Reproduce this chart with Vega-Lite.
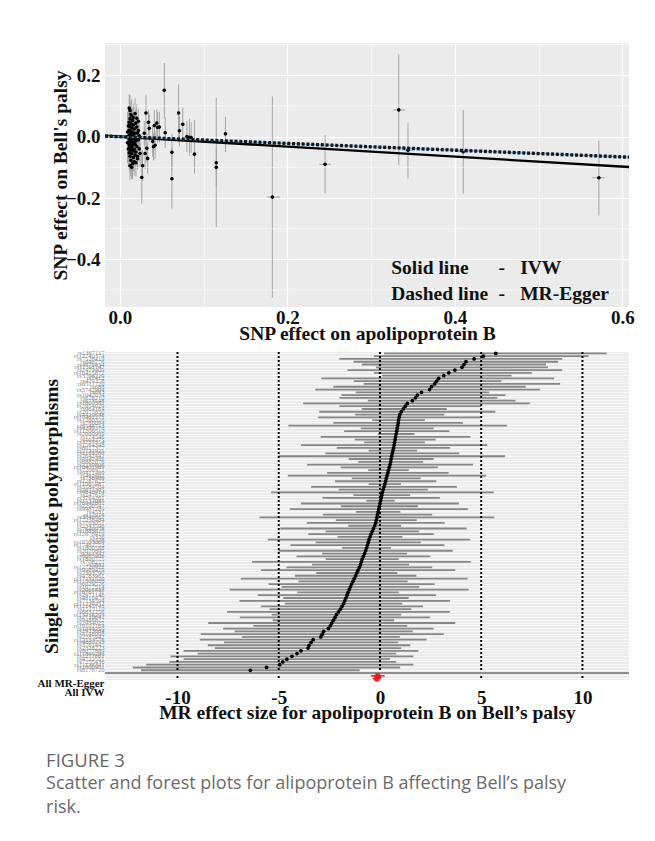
{
  "$schema": "https://vega.github.io/schema/vega-lite/v6.json",
  "padding": {"left": 37, "top": 43, "right": 26, "bottom": 0},
  "background": "white",
  "spacing": 6,
  "config": {
    "view": {"stroke": null},
    "axis": {
      "labelFont": "Liberation Serif", "labelFontWeight": "bold", "labelFontSize": 19, "labelColor": "#111111",
      "titleFont": "Liberation Serif", "titleFontWeight": "bold", "titleFontSize": 19.5, "titleColor": "#111111",
      "domain": false, "ticks": false
    }
  },
  "title": {
    "text": "FIGURE 3",
    "subtitle": ["Scatter and forest plots for alipoprotein B affecting Bell’s palsy", "risk."],
    "orient": "bottom", "anchor": "start", "offset": 30, "dx": 9,
    "font": "Open Sans", "fontSize": 18.5, "fontWeight": "normal", "color": "#666666",
    "subtitleFont": "Open Sans", "subtitleFontSize": 18, "subtitleColor": "#6b6b6b",
    "subtitlePadding": 5, "subtitleLineHeight": 24
  },
  "datasets": {
    "ygrid": [{"g": -0.5}, {"g": -0.3}, {"g": -0.1}, {"g": 0.1}, {"g": 0.3}],
    "pts": [
      {"bx": 0.011, "by": 0.093, "lo": 0.048, "hi": 0.138},
      {"bx": 0.012, "by": 0.085, "lo": 0.035, "hi": 0.135},
      {"bx": 0.013, "by": 0.072, "lo": 0.032, "hi": 0.112},
      {"bx": 0.014, "by": 0.066, "lo": 0.011, "hi": 0.121},
      {"bx": 0.012, "by": 0.058, "lo": 0.013, "hi": 0.103},
      {"bx": 0.015, "by": 0.052, "lo": 0.012, "hi": 0.092},
      {"bx": 0.011, "by": 0.047, "lo": -0.003, "hi": 0.097},
      {"bx": 0.013, "by": 0.041, "lo": -0.004, "hi": 0.086},
      {"bx": 0.016, "by": 0.038, "lo": 0.003, "hi": 0.073},
      {"bx": 0.012, "by": 0.033, "lo": -0.017, "hi": 0.083},
      {"bx": 0.014, "by": 0.029, "lo": -0.011, "hi": 0.069},
      {"bx": 0.017, "by": 0.025, "lo": -0.020, "hi": 0.070},
      {"bx": 0.011, "by": 0.021, "lo": -0.034, "hi": 0.076},
      {"bx": 0.013, "by": 0.018, "lo": -0.022, "hi": 0.058},
      {"bx": 0.015, "by": 0.014, "lo": -0.036, "hi": 0.064},
      {"bx": 0.018, "by": 0.011, "lo": -0.024, "hi": 0.046},
      {"bx": 0.012, "by": 0.008, "lo": -0.037, "hi": 0.053},
      {"bx": 0.014, "by": 0.005, "lo": -0.035, "hi": 0.045},
      {"bx": 0.016, "by": 0.003, "lo": -0.047, "hi": 0.053},
      {"bx": 0.010, "by": 0.001, "lo": -0.054, "hi": 0.056},
      {"bx": 0.013, "by": -0.002, "lo": -0.047, "hi": 0.043},
      {"bx": 0.015, "by": -0.004, "lo": -0.044, "hi": 0.036},
      {"bx": 0.017, "by": -0.007, "lo": -0.057, "hi": 0.043},
      {"bx": 0.011, "by": -0.009, "lo": -0.054, "hi": 0.036},
      {"bx": 0.014, "by": -0.012, "lo": -0.052, "hi": 0.028},
      {"bx": 0.019, "by": -0.014, "lo": -0.049, "hi": 0.021},
      {"bx": 0.012, "by": -0.017, "lo": -0.067, "hi": 0.033},
      {"bx": 0.016, "by": -0.019, "lo": -0.064, "hi": 0.026},
      {"bx": 0.013, "by": -0.022, "lo": -0.077, "hi": 0.033},
      {"bx": 0.018, "by": -0.025, "lo": -0.065, "hi": 0.015},
      {"bx": 0.011, "by": -0.027, "lo": -0.077, "hi": 0.023},
      {"bx": 0.015, "by": -0.030, "lo": -0.075, "hi": 0.015},
      {"bx": 0.020, "by": -0.032, "lo": -0.067, "hi": 0.003},
      {"bx": 0.012, "by": -0.035, "lo": -0.085, "hi": 0.015},
      {"bx": 0.014, "by": -0.038, "lo": -0.083, "hi": 0.007},
      {"bx": 0.017, "by": -0.041, "lo": -0.081, "hi": -0.001},
      {"bx": 0.013, "by": -0.044, "lo": -0.094, "hi": 0.006},
      {"bx": 0.016, "by": -0.047, "lo": -0.092, "hi": -0.002},
      {"bx": 0.019, "by": -0.050, "lo": -0.090, "hi": -0.010},
      {"bx": 0.011, "by": -0.053, "lo": -0.108, "hi": 0.002},
      {"bx": 0.014, "by": -0.056, "lo": -0.101, "hi": -0.011},
      {"bx": 0.018, "by": -0.060, "lo": -0.100, "hi": -0.020},
      {"bx": 0.012, "by": -0.064, "lo": -0.114, "hi": -0.014},
      {"bx": 0.016, "by": -0.068, "lo": -0.113, "hi": -0.023},
      {"bx": 0.021, "by": -0.072, "lo": -0.107, "hi": -0.037},
      {"bx": 0.013, "by": -0.077, "lo": -0.127, "hi": -0.027},
      {"bx": 0.017, "by": -0.082, "lo": -0.127, "hi": -0.037},
      {"bx": 0.015, "by": -0.088, "lo": -0.138, "hi": -0.038},
      {"bx": 0.012, "by": -0.095, "lo": -0.140, "hi": -0.050},
      {"bx": 0.014, "by": -0.100, "lo": -0.140, "hi": -0.060},
      {"bx": 0.019, "by": 0.044, "lo": 0.004, "hi": 0.084},
      {"bx": 0.020, "by": 0.031, "lo": -0.004, "hi": 0.066},
      {"bx": 0.021, "by": 0.012, "lo": -0.028, "hi": 0.052},
      {"bx": 0.022, "by": -0.010, "lo": -0.045, "hi": 0.025},
      {"bx": 0.023, "by": -0.040, "lo": -0.080, "hi": 0.000},
      {"bx": 0.020, "by": 0.060, "lo": 0.015, "hi": 0.105},
      {"bx": 0.018, "by": 0.075, "lo": 0.025, "hi": 0.125},
      {"bx": 0.022, "by": 0.020, "lo": -0.020, "hi": 0.060},
      {"bx": 0.024, "by": -0.055, "lo": -0.100, "hi": -0.010},
      {"bx": 0.021, "by": -0.065, "lo": -0.105, "hi": -0.025},
      {"bx": 0.010, "by": 0.035, "lo": -0.025, "hi": 0.095},
      {"bx": 0.010, "by": -0.040, "lo": -0.100, "hi": 0.020},
      {"bx": 0.009, "by": -0.020, "lo": -0.085, "hi": 0.045},
      {"bx": 0.009, "by": 0.015, "lo": -0.050, "hi": 0.080},
      {"bx": 0.019, "by": -0.085, "lo": -0.130, "hi": -0.040},
      {"bx": 0.016, "by": 0.062, "lo": 0.017, "hi": 0.107},
      {"bx": 0.022, "by": 0.050, "lo": 0.010, "hi": 0.090},
      {"bx": 0.023, "by": 0.003, "lo": -0.037, "hi": 0.043},
      {"bx": 0.026, "by": -0.133, "lo": -0.220, "hi": -0.046},
      {"bx": 0.027, "by": -0.095, "lo": -0.145, "hi": -0.045},
      {"bx": 0.029, "by": 0.011, "lo": -0.029, "hi": 0.051},
      {"bx": 0.031, "by": 0.077, "lo": 0.005, "hi": 0.137},
      {"bx": 0.030, "by": -0.055, "lo": -0.105, "hi": -0.005},
      {"bx": 0.032, "by": -0.038, "lo": -0.083, "hi": 0.007},
      {"bx": 0.033, "by": -0.071, "lo": -0.121, "hi": -0.021},
      {"bx": 0.034, "by": 0.047, "lo": 0.007, "hi": 0.087},
      {"bx": 0.035, "by": 0.027, "lo": -0.018, "hi": 0.072},
      {"bx": 0.039, "by": -0.016, "lo": -0.066, "hi": 0.034},
      {"bx": 0.040, "by": -0.033, "lo": -0.078, "hi": 0.012},
      {"bx": 0.041, "by": 0.036, "lo": -0.014, "hi": 0.086},
      {"bx": 0.044, "by": 0.044, "lo": -0.001, "hi": 0.089},
      {"bx": 0.045, "by": 0.030, "lo": -0.020, "hi": 0.080},
      {"bx": 0.042, "by": -0.028, "lo": -0.073, "hi": 0.017},
      {"bx": 0.047, "by": 0.031, "lo": -0.019, "hi": 0.081},
      {"bx": 0.053, "by": 0.151, "lo": 0.060, "hi": 0.240},
      {"bx": 0.054, "by": 0.013, "lo": -0.037, "hi": 0.063},
      {"bx": 0.062, "by": -0.051, "lo": -0.111, "hi": 0.009},
      {"bx": 0.062, "by": -0.137, "lo": -0.235, "hi": -0.038},
      {"bx": 0.070, "by": 0.077, "lo": -0.016, "hi": 0.170},
      {"bx": 0.071, "by": 0.019, "lo": -0.031, "hi": 0.069},
      {"bx": 0.075, "by": 0.040, "lo": -0.015, "hi": 0.095},
      {"bx": 0.080, "by": 0.000, "lo": -0.050, "hi": 0.050},
      {"bx": 0.083, "by": -0.002, "lo": -0.062, "hi": 0.058},
      {"bx": 0.085, "by": -0.003, "lo": -0.053, "hi": 0.047},
      {"bx": 0.089, "by": -0.057, "lo": -0.120, "hi": 0.055},
      {"bx": 0.115, "by": -0.085, "lo": -0.295, "hi": 0.126},
      {"bx": 0.115, "by": -0.100, "lo": -0.160, "hi": -0.040},
      {"bx": 0.126, "by": 0.009, "lo": -0.050, "hi": 0.065},
      {"bx": 0.182, "by": -0.197, "lo": -0.525, "hi": 0.131, "hx0": 0.176, "hx1": 0.191},
      {"bx": 0.245, "by": -0.090, "lo": -0.186, "hi": 0.005, "hx0": 0.238, "hx1": 0.252},
      {"bx": 0.333, "by": 0.087, "lo": -0.093, "hi": 0.268, "hx0": 0.326, "hx1": 0.341},
      {"bx": 0.344, "by": -0.044, "lo": -0.137, "hi": 0.044, "hx0": 0.339, "hx1": 0.350},
      {"bx": 0.410, "by": -0.049, "lo": -0.186, "hi": 0.087, "hx0": 0.404, "hx1": 0.416},
      {"bx": 0.572, "by": -0.134, "lo": -0.257, "hi": -0.014, "hx0": 0.564, "hx1": 0.579}
    ],
    "lines": [
      {"m": "IVW", "x": -0.0179, "y": 0.0029},
      {"m": "IVW", "x": 0.608, "y": -0.099},
      {"m": "Egger", "x": -0.0179, "y": 0.0018},
      {"m": "Egger", "x": 0.608, "y": -0.067}
    ],
    "vlines": [{"v": -10}, {"v": -5}, {"v": 0}, {"v": 5}, {"v": 10}],
    "forest": [
      {"snp": "rs1367117", "est": 5.72, "lo": 0.2, "hi": 11.2},
      {"snp": "rs12740374", "est": 5.10, "lo": -0.3, "hi": 10.3},
      {"snp": "rs7528419", "est": 4.65, "lo": -2.0, "hi": 9.0},
      {"snp": "rs646776", "est": 4.25, "lo": -1.3, "hi": 8.8},
      {"snp": "rs4970834", "est": 4.15, "lo": -0.9, "hi": 8.2},
      {"snp": "rs11591147", "est": 4.05, "lo": -0.2, "hi": 8.3},
      {"snp": "rs2479409", "est": 3.70, "lo": -1.6, "hi": 9.0},
      {"snp": "rs10455872", "est": 3.40, "lo": -0.3, "hi": 7.5},
      {"snp": "rs3798220", "est": 3.15, "lo": 0.1, "hi": 6.5},
      {"snp": "rs7412", "est": 2.90, "lo": -2.9, "hi": 8.6},
      {"snp": "rs429358", "est": 2.80, "lo": -1.3, "hi": 6.0},
      {"snp": "rs6511720", "est": 2.70, "lo": -0.8, "hi": 8.9},
      {"snp": "rs688", "est": 2.55, "lo": -2.3, "hi": 7.2},
      {"snp": "rs5742904", "est": 2.45, "lo": -3.2, "hi": 7.9},
      {"snp": "rs693", "est": 2.05, "lo": -1.2, "hi": 5.4},
      {"snp": "rs1042034", "est": 1.85, "lo": -1.9, "hi": 6.2},
      {"snp": "rs676210", "est": 1.75, "lo": -2.0, "hi": 5.8},
      {"snp": "rs673548", "est": 1.60, "lo": -0.6, "hi": 6.7},
      {"snp": "rs1800562", "est": 1.35, "lo": -3.8, "hi": 7.4},
      {"snp": "rs2954029", "est": 1.25, "lo": -2.0, "hi": 5.0},
      {"snp": "rs964184", "est": 1.15, "lo": -0.9, "hi": 3.3},
      {"snp": "rs2075650", "est": 1.05, "lo": -3.0, "hi": 5.7},
      {"snp": "rs4420638", "est": 0.98, "lo": -1.22, "hi": 3.18},
      {"snp": "rs10402271", "est": 0.95, "lo": -3.05, "hi": 4.95},
      {"snp": "rs1260326", "est": 0.92, "lo": -0.38, "hi": 2.22},
      {"snp": "rs780094", "est": 0.90, "lo": -2.30, "hi": 4.10},
      {"snp": "rs6544713", "est": 0.88, "lo": -4.52, "hi": 6.28},
      {"snp": "rs4299376", "est": 0.85, "lo": -0.95, "hi": 2.65},
      {"snp": "rs11206510", "est": 0.83, "lo": -1.77, "hi": 3.43},
      {"snp": "rs2000999", "est": 0.80, "lo": -0.10, "hi": 1.70},
      {"snp": "rs174546", "est": 0.77, "lo": -2.93, "hi": 4.47},
      {"snp": "rs102275", "est": 0.75, "lo": -1.25, "hi": 2.75},
      {"snp": "rs3757354", "est": 0.72, "lo": -0.78, "hi": 2.22},
      {"snp": "rs1564348", "est": 0.70, "lo": -3.90, "hi": 5.30},
      {"snp": "rs8017377", "est": 0.67, "lo": -2.13, "hi": 3.47},
      {"snp": "rs2131925", "est": 0.64, "lo": -0.56, "hi": 1.84},
      {"snp": "rs1169288", "est": 0.61, "lo": -2.69, "hi": 3.91},
      {"snp": "rs2642442", "est": 0.58, "lo": -5.02, "hi": 6.18},
      {"snp": "rs4942486", "est": 0.55, "lo": -1.55, "hi": 2.65},
      {"snp": "rs6882076", "est": 0.53, "lo": -1.07, "hi": 2.13},
      {"snp": "rs2230806", "est": 0.50, "lo": -3.60, "hi": 4.60},
      {"snp": "rs10401969", "est": 0.46, "lo": -1.94, "hi": 2.86},
      {"snp": "rs7206971", "est": 0.42, "lo": -0.58, "hi": 1.42},
      {"snp": "rs9411489", "est": 0.39, "lo": -2.61, "hi": 3.39},
      {"snp": "rs492602", "est": 0.35, "lo": -4.55, "hi": 5.25},
      {"snp": "rs738409", "est": 0.31, "lo": -1.39, "hi": 2.01},
      {"snp": "rs2287623", "est": 0.28, "lo": -2.22, "hi": 2.78},
      {"snp": "rs11065987", "est": 0.24, "lo": -0.56, "hi": 1.04},
      {"snp": "rs3184504", "est": 0.20, "lo": -3.40, "hi": 3.80},
      {"snp": "rs2071305", "est": 0.16, "lo": -2.04, "hi": 2.36},
      {"snp": "rs4846914", "est": 0.12, "lo": -5.38, "hi": 5.62},
      {"snp": "rs247616", "est": 0.09, "lo": -1.31, "hi": 1.49},
      {"snp": "rs3764261", "est": 0.06, "lo": -2.84, "hi": 2.96},
      {"snp": "rs1532085", "est": 0.03, "lo": -0.67, "hi": 0.73},
      {"snp": "rs16942887", "est": 0.00, "lo": -3.90, "hi": 3.90},
      {"snp": "rs2290547", "est": -0.03, "lo": -1.93, "hi": 1.87},
      {"snp": "rs9987289", "est": -0.06, "lo": -4.46, "hi": 4.34},
      {"snp": "rs4531", "est": -0.09, "lo": -1.19, "hi": 1.01},
      {"snp": "rs12916", "est": -0.12, "lo": -2.82, "hi": 2.58},
      {"snp": "rs3846662", "est": -0.15, "lo": -5.95, "hi": 5.65},
      {"snp": "rs17238484", "est": -0.18, "lo": -2.18, "hi": 1.82},
      {"snp": "rs7703051", "est": -0.21, "lo": -3.61, "hi": 3.19},
      {"snp": "rs2343596", "est": -0.26, "lo": -1.56, "hi": 1.04},
      {"snp": "rs7640978", "est": -0.32, "lo": -4.92, "hi": 4.28},
      {"snp": "rs1883025", "est": -0.38, "lo": -2.68, "hi": 1.92},
      {"snp": "rs12678919", "est": -0.44, "lo": -3.54, "hi": 2.66},
      {"snp": "rs326", "est": -0.49, "lo": -2.09, "hi": 1.11},
      {"snp": "rs328", "est": -0.54, "lo": -5.54, "hi": 4.46},
      {"snp": "rs10503669", "est": -0.58, "lo": -3.18, "hi": 2.02},
      {"snp": "rs17482753", "est": -0.62, "lo": -4.42, "hi": 3.18},
      {"snp": "rs1800588", "est": -0.66, "lo": -1.86, "hi": 0.54},
      {"snp": "rs2070895", "est": -0.71, "lo": -5.01, "hi": 3.59},
      {"snp": "rs261342", "est": -0.76, "lo": -2.86, "hi": 1.34},
      {"snp": "rs6065906", "est": -0.82, "lo": -4.12, "hi": 2.48},
      {"snp": "rs1800775", "est": -0.88, "lo": -2.68, "hi": 0.92},
      {"snp": "rs708272", "est": -0.92, "lo": -6.32, "hi": 4.48},
      {"snp": "rs5882", "est": -0.96, "lo": -3.36, "hi": 1.44},
      {"snp": "rs12720922", "est": -1.02, "lo": -4.62, "hi": 2.58},
      {"snp": "rs9989419", "est": -1.08, "lo": -5.88, "hi": 3.72},
      {"snp": "rs2303790", "est": -1.14, "lo": -3.14, "hi": 0.86},
      {"snp": "rs4783961", "est": -1.20, "lo": -4.20, "hi": 1.80},
      {"snp": "rs17231520", "est": -1.27, "lo": -6.87, "hi": 4.33},
      {"snp": "rs11508026", "est": -1.33, "lo": -4.03, "hi": 1.37},
      {"snp": "rs6029526", "est": -1.40, "lo": -5.50, "hi": 2.70},
      {"snp": "rs1077514", "est": -1.46, "lo": -4.86, "hi": 1.94},
      {"snp": "rs2068888", "est": -1.52, "lo": -7.42, "hi": 4.38},
      {"snp": "rs10761731", "est": -1.58, "lo": -4.08, "hi": 0.92},
      {"snp": "rs2972146", "est": -1.63, "lo": -6.03, "hi": 2.77},
      {"snp": "rs4810479", "est": -1.68, "lo": -4.78, "hi": 1.42},
      {"snp": "rs7134594", "est": -1.74, "lo": -6.94, "hi": 3.46},
      {"snp": "rs11229252", "est": -1.80, "lo": -4.70, "hi": 1.10},
      {"snp": "rs12145743", "est": -1.87, "lo": -5.87, "hi": 2.13},
      {"snp": "rs1515110", "est": -1.95, "lo": -5.45, "hi": 1.55},
      {"snp": "rs6831256", "est": -2.05, "lo": -7.55, "hi": 3.45},
      {"snp": "rs13238203", "est": -2.15, "lo": -5.35, "hi": 1.05},
      {"snp": "rs2710642", "est": -2.22, "lo": -6.92, "hi": 2.48},
      {"snp": "rs9488822", "est": -2.30, "lo": -5.30, "hi": 0.70},
      {"snp": "rs2954022", "est": -2.38, "lo": -8.48, "hi": 3.72},
      {"snp": "rs10102164", "est": -2.45, "lo": -6.25, "hi": 1.35},
      {"snp": "rs1044250", "est": -2.55, "lo": -7.75, "hi": 2.65},
      {"snp": "rs2923084", "est": -2.78, "lo": -7.18, "hi": 1.62},
      {"snp": "rs4148008", "est": -2.85, "lo": -8.85, "hi": 3.15},
      {"snp": "rs2285942", "est": -2.92, "lo": -6.82, "hi": 0.98},
      {"snp": "rs12133576", "est": -3.30, "lo": -8.90, "hi": 2.30},
      {"snp": "rs4660293", "est": -3.40, "lo": -7.70, "hi": 0.90},
      {"snp": "rs3761445", "est": -3.50, "lo": -8.50, "hi": 1.50},
      {"snp": "rs2328223", "est": -3.55, "lo": -8.15, "hi": 1.05},
      {"snp": "rs8077889", "est": -3.90, "lo": -9.70, "hi": 1.90},
      {"snp": "rs11869286", "est": -4.10, "lo": -9.00, "hi": 0.80},
      {"snp": "rs2277862", "est": -4.35, "lo": -10.35, "hi": 1.65},
      {"snp": "rs4722551", "est": -4.60, "lo": -9.70, "hi": 0.50},
      {"snp": "rs7255436", "est": -4.80, "lo": -10.40, "hi": 0.80},
      {"snp": "rs11136341", "est": -4.95, "lo": -11.55, "hi": 1.65},
      {"snp": "rs1800961", "est": -5.60, "lo": -12.20, "hi": 1.00},
      {"snp": "rs8176720", "est": -6.40, "lo": -11.80, "hi": -1.00},
      {"snp": "sep"},
      {"snp": "All MR-Egger", "est": -0.11, "lo": -0.45, "hi": 0.23, "all": true},
      {"snp": "All IVW", "est": -0.16, "lo": -0.36, "hi": 0.04, "all": true}
    ]
  },
  "vconcat": [
    {
      "width": 524,
      "height": 264,
      "view": {"fill": "#ebebeb", "stroke": null},
      "resolve": {"scale": {"x": "independent", "y": "independent"}, "axis": {"x": "independent", "y": "independent"}},
      "layer": [
        {
          "layer": [
            {
              "data": {"name": "pts"},
              "mark": {"type": "rule", "color": "#9c9c9c", "strokeWidth": 0.9},
              "encoding": {
                "x": {
                  "field": "bx", "type": "quantitative",
                  "scale": {"domain": [-0.0179, 0.608], "nice": false, "zero": false},
                  "title": "SNP effect on apolipoprotein B",
                  "axis": {
                    "values": [0, 0.1, 0.2, 0.3, 0.4, 0.5, 0.6],
                    "labelExpr": "round(datum.value*10) % 2 == 0 ? format(datum.value, '.1f') : ''",
                    "labelOverlap": false,
                    "grid": true, "gridColor": "white",
                    "gridWidth": {"condition": {"test": "round(datum.value*10) % 2 != 0", "value": 0.6}, "value": 1.2},
                    "labelPadding": 1, "titlePadding": -3
                  }
                },
                "y": {
                  "field": "lo", "type": "quantitative",
                  "scale": {"domain": [-0.555, 0.305], "nice": false, "zero": false},
                  "title": "SNP effect on Bell's palsy",
                  "axis": {
                    "values": [-0.4, -0.2, 0, 0.2],
                    "format": ".1f",
                    "labelOverlap": false,
                    "grid": true, "gridColor": "white", "gridWidth": 1.2,
                    "labelPadding": 5, "titlePadding": -5
                  }
                },
                "y2": {"field": "hi"}
              }
            },
            {
              "data": {"name": "ygrid"},
              "mark": {"type": "rule", "color": "white", "strokeWidth": 0.6},
              "encoding": {
                "y": {"field": "g", "type": "quantitative"}
              }
            },
            {
              "data": {"name": "pts"},
              "transform": [{"filter": "isValid(datum.hx0)"}],
              "mark": {"type": "rule", "color": "#9c9c9c", "strokeWidth": 0.9},
              "encoding": {
                "x": {"field": "hx0", "type": "quantitative"},
                "x2": {"field": "hx1"},
                "y": {"field": "by", "type": "quantitative"}
              }
            },
            {
              "data": {"name": "pts"},
              "mark": {"type": "circle", "color": "black", "size": 13, "opacity": 1},
              "encoding": {
                "x": {"field": "bx", "type": "quantitative"},
                "y": {"field": "by", "type": "quantitative"}
              }
            },
            {
              "data": {"name": "lines"},
              "transform": [{"filter": "datum.m == 'IVW'"}],
              "mark": {"type": "line", "color": "black", "strokeWidth": 2.3},
              "encoding": {
                "x": {"field": "x", "type": "quantitative"},
                "y": {"field": "y", "type": "quantitative"}
              }
            },
            {
              "data": {"name": "lines"},
              "transform": [{"filter": "datum.m == 'Egger'"}],
              "mark": {"type": "line", "color": "#6fb3d8", "strokeWidth": 1.2},
              "encoding": {
                "x": {"field": "x", "type": "quantitative"},
                "y": {"field": "y", "type": "quantitative"}
              }
            },
            {
              "data": {"name": "lines"},
              "transform": [{"filter": "datum.m == 'Egger'"}],
              "mark": {"type": "line", "color": "#111a24", "strokeWidth": 3.4, "strokeDash": [3, 1.8]},
              "encoding": {
                "x": {"field": "x", "type": "quantitative"},
                "y": {"field": "y", "type": "quantitative"}
              }
            }
          ]
        },
        {
          "data": {"values": [{}]},
          "encoding": {
            "x": {"type": "quantitative", "scale": {"domain": [-0.0179, 0.608], "nice": false, "zero": false}, "axis": null},
            "y": {"type": "quantitative", "scale": {"domain": [-0.555, 0.305], "nice": false, "zero": false}, "axis": null}
          },
          "layer": [
            {
              "mark": {"type": "text", "align": "left", "baseline": "middle", "font": "Liberation Serif", "fontWeight": "bold", "fontSize": 19.5, "color": "#111111"},
              "encoding": {"x": {"datum": 0.324, "type": "quantitative"}, "y": {"datum": -0.428, "type": "quantitative"}, "text": {"value": "Solid line"}}
            },
            {
              "mark": {"type": "text", "align": "center", "baseline": "middle", "font": "Liberation Serif", "fontWeight": "bold", "fontSize": 19.5, "color": "#111111"},
              "encoding": {"x": {"datum": 0.456, "type": "quantitative"}, "y": {"datum": -0.428, "type": "quantitative"}, "text": {"value": "-"}}
            },
            {
              "mark": {"type": "text", "align": "left", "baseline": "middle", "font": "Liberation Serif", "fontWeight": "bold", "fontSize": 19.5, "color": "#111111"},
              "encoding": {"x": {"datum": 0.478, "type": "quantitative"}, "y": {"datum": -0.428, "type": "quantitative"}, "text": {"value": "IVW"}}
            },
            {
              "mark": {"type": "text", "align": "left", "baseline": "middle", "font": "Liberation Serif", "fontWeight": "bold", "fontSize": 19.5, "color": "#111111"},
              "encoding": {"x": {"datum": 0.324, "type": "quantitative"}, "y": {"datum": -0.514, "type": "quantitative"}, "text": {"value": "Dashed line"}}
            },
            {
              "mark": {"type": "text", "align": "center", "baseline": "middle", "font": "Liberation Serif", "fontWeight": "bold", "fontSize": 19.5, "color": "#111111"},
              "encoding": {"x": {"datum": 0.456, "type": "quantitative"}, "y": {"datum": -0.514, "type": "quantitative"}, "text": {"value": "-"}}
            },
            {
              "mark": {"type": "text", "align": "left", "baseline": "middle", "font": "Liberation Serif", "fontWeight": "bold", "fontSize": 19.5, "color": "#111111"},
              "encoding": {"x": {"datum": 0.478, "type": "quantitative"}, "y": {"datum": -0.514, "type": "quantitative"}, "text": {"value": "MR-Egger"}}
            }
          ]
        }
      ]
    },
    {
      "width": 524,
      "height": 328,
      "view": {"fill": "#ebebeb", "stroke": null},
      "data": {"name": "forest"},
      "layer": [
        {
          "transform": [{"filter": "isValid(datum.lo) && !datum.all"}],
          "mark": {"type": "rule", "color": "#878787", "strokeWidth": 1.8},
          "encoding": {
            "x": {
              "field": "lo", "type": "quantitative",
              "scale": {"domain": [-13.58, 12.3], "nice": false, "zero": false},
              "title": "MR effect size for apolipoprotein B on Bell’s palsy",
              "axis": {
                "values": [-10, -5, 0, 5, 10],
                "labelExpr": "replace(format(datum.value, 'd'), '−', '-')",
                "labelOverlap": false,
                "grid": false, "labelPadding": 8, "titlePadding": -4
              }
            },
            "x2": {"field": "hi"},
            "y": {
              "field": "snp", "type": "nominal",
              "scale": {
                "type": "band", "paddingInner": 0, "paddingOuter": 0,
                "domain": ["rs1367117","rs12740374","rs7528419","rs646776","rs4970834","rs11591147","rs2479409","rs10455872","rs3798220","rs7412","rs429358","rs6511720","rs688","rs5742904","rs693","rs1042034","rs676210","rs673548","rs1800562","rs2954029","rs964184","rs2075650","rs4420638","rs10402271","rs1260326","rs780094","rs6544713","rs4299376","rs11206510","rs2000999","rs174546","rs102275","rs3757354","rs1564348","rs8017377","rs2131925","rs1169288","rs2642442","rs4942486","rs6882076","rs2230806","rs10401969","rs7206971","rs9411489","rs492602","rs738409","rs2287623","rs11065987","rs3184504","rs2071305","rs4846914","rs247616","rs3764261","rs1532085","rs16942887","rs2290547","rs9987289","rs4531","rs12916","rs3846662","rs17238484","rs7703051","rs2343596","rs7640978","rs1883025","rs12678919","rs326","rs328","rs10503669","rs17482753","rs1800588","rs2070895","rs261342","rs6065906","rs1800775","rs708272","rs5882","rs12720922","rs9989419","rs2303790","rs4783961","rs17231520","rs11508026","rs6029526","rs1077514","rs2068888","rs10761731","rs2972146","rs4810479","rs7134594","rs11229252","rs12145743","rs1515110","rs6831256","rs13238203","rs2710642","rs9488822","rs2954022","rs10102164","rs1044250","rs2923084","rs4148008","rs2285942","rs12133576","rs4660293","rs3761445","rs2328223","rs8077889","rs11869286","rs2277862","rs4722551","rs7255436","rs11136341","rs1800961","rs8176720","sep","All MR-Egger","All IVW"]
              },
              "title": "Single nucleotide polymorphisms",
              "axis": {
                "labelExpr": "datum.value == 'sep' ? '' : datum.value",
                "labelOverlap": false,
                "labelFontSize": {"condition": {"test": "indexof(datum.value, 'All') == 0", "value": 11}, "value": 6.5},
                "labelFontWeight": {"condition": {"test": "indexof(datum.value, 'All') == 0", "value": "bold"}, "value": "normal"},
                "labelColor": {"condition": {"test": "indexof(datum.value, 'All') == 0", "value": "#111111"}, "value": "#888888"},
                "labelOffset": {"condition": {"test": "indexof(datum.value, 'All') == 0", "value": 8}, "value": 0},
                "labelBaseline": {"condition": {"test": "datum.value == 'All IVW'", "value": "top"}, "value": "middle"},
                "labelPadding": 1,
                "grid": true, "gridColor": "white", "gridWidth": 0.6,
                "titleX": -54, "titleY": 164, "titleAngle": 270, "titleBaseline": "middle", "titleAlign": "center"
              }
            }
          }
        },
        {
          "data": {"name": "vlines"},
          "mark": {"type": "rule", "color": "black", "strokeWidth": 2, "strokeDash": [2, 2]},
          "encoding": {"x": {"field": "v", "type": "quantitative"}}
        },
        {
          "transform": [{"filter": "datum.snp == 'sep'"}],
          "mark": {"type": "rule", "color": "#8f8f8f", "strokeWidth": 2},
          "encoding": {"y": {"field": "snp", "type": "nominal"}}
        },
        {
          "transform": [{"filter": "isValid(datum.est) && !datum.all"}],
          "mark": {"type": "point", "filled": true, "shape": "circle", "color": "black", "size": 14, "opacity": 1},
          "encoding": {
            "x": {"field": "est", "type": "quantitative"},
            "y": {"field": "snp", "type": "nominal"}
          }
        },
        {
          "transform": [{"filter": "datum.all"}],
          "mark": {"type": "rule", "color": "#e8202a", "strokeWidth": 1.5},
          "encoding": {
            "x": {"field": "lo", "type": "quantitative"},
            "x2": {"field": "hi"},
            "y": {"field": "snp", "type": "nominal"}
          }
        },
        {
          "transform": [{"filter": "datum.all"}],
          "mark": {"type": "point", "filled": false, "shape": "M-1,0L1,0M0,-1L0,1M-0.7,-0.7L0.7,0.7M-0.7,0.7L0.7,-0.7", "color": "#e8202a", "strokeWidth": 1.6, "size": 40, "opacity": 1},
          "encoding": {
            "x": {"field": "est", "type": "quantitative"},
            "y": {"field": "snp", "type": "nominal"}
          }
        }
      ]
    }
  ]
}
